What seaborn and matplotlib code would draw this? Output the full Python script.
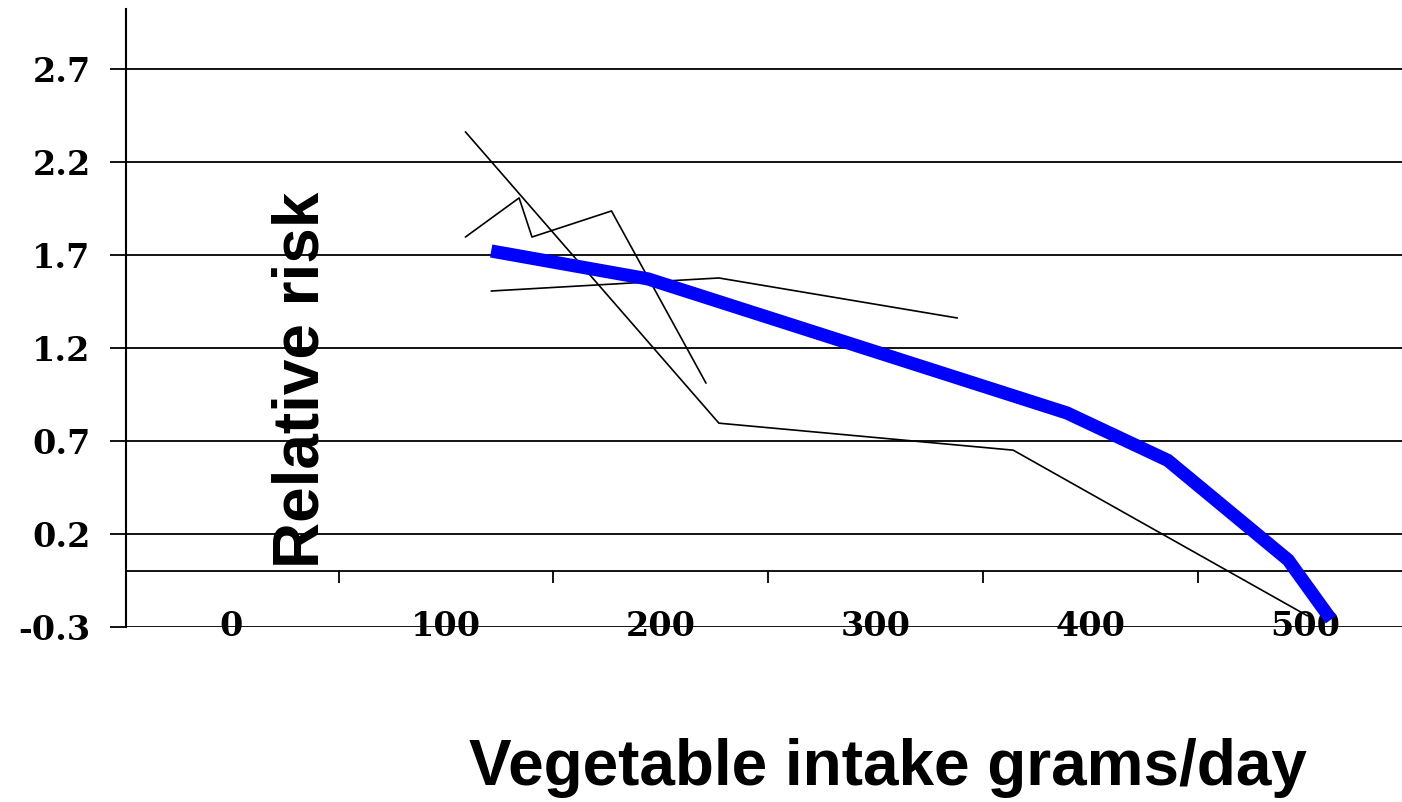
import numpy as np
import pandas as pd
import matplotlib
matplotlib.use("Agg")
import matplotlib.pyplot as plt
import seaborn as sns

# data
pooled_x = [121, 194, 389, 436, 492, 512]
pooled_y = [1.72, 1.57, 0.85, 0.595, 0.06, -0.26]

study_a_x = [109, 227, 364, 501]
study_a_y = [2.36, 0.795, 0.65, -0.24]

study_b_x = [109, 134, 140, 177, 221]
study_b_y = [1.795, 2.005, 1.795, 1.935, 1.01]

study_c_x = [121, 227, 338]
study_c_y = [1.505, 1.575, 1.36]

y_ticks = [-0.3, 0.2, 0.7, 1.2, 1.7, 2.2, 2.7]
x_ticks = [0, 100, 200, 300, 400, 500]
x_minor = [50, 150, 250, 350, 450]

sns.set_style("white")
plt.rcParams["text.color"] = "black"
plt.rcParams["axes.labelcolor"] = "black"
plt.rcParams["xtick.color"] = "black"
plt.rcParams["ytick.color"] = "black"

fig = plt.figure(figsize=(14.02, 8.02), dpi=100)
ax = fig.add_axes([126 / 1402, 1 - 627 / 802, 1276 / 1402, 618 / 802])

for xs, ys in [(study_a_x, study_a_y), (study_b_x, study_b_y), (study_c_x, study_c_y)]:
    sns.lineplot(x=xs, y=ys, ax=ax, color="black", linewidth=1.2,
                 sort=False, estimator=None, zorder=3)

sns.lineplot(x=pooled_x, y=pooled_y, ax=ax, color="#0000ff", linewidth=9.5,
             sort=False, estimator=None, zorder=4,
             solid_joinstyle="miter", solid_capstyle="butt")

ax.set_xlim(-49, 545)
ax.set_ylim(-0.3, 3.02)

# y axis: gridlines at the ticks, ticks sticking out left
ax.set_yticks(y_ticks)
ax.set_yticklabels([f"{v:.1f}" for v in y_ticks])
ax.yaxis.grid(True, color="black", linewidth=1.3)
ax.tick_params(axis="y", direction="out", length=11.5, width=1.3, color="black",
               pad=14, left=True)
ax.set_axisbelow(True)

# x labels sit right on the bottom gridline
ax.set_xticks(x_ticks)
ax.set_xticklabels([str(v) for v in x_ticks])
ax.tick_params(axis="x", length=0, pad=0)

for lab in ax.get_xticklabels() + ax.get_yticklabels():
    lab.set_fontfamily("DejaVu Serif")
    lab.set_fontweight("bold")
    lab.set_fontsize(24)
    lab.set_color("black")
for lab in ax.get_xticklabels():
    lab.set_verticalalignment("center")

for s in ["top", "right", "bottom"]:
    ax.spines[s].set_visible(False)
ax.spines["left"].set_color("black")
ax.spines["left"].set_linewidth(1.5)

# the zero line carries the category-style tick marks
zero_axis = ax.secondary_xaxis(0, transform=ax.transData)
zero_axis.set_xticks(x_minor)
zero_axis.set_xticklabels([""] * len(x_minor))
zero_axis.tick_params(direction="out", length=8.5, width=1.3, color="black")
zero_axis.spines["bottom"].set_color("black")
zero_axis.spines["bottom"].set_linewidth(1.3)

ax.set_ylabel("Relative risk", fontsize=46, fontweight="bold",
              fontfamily="Liberation Sans", color="black")
ax.yaxis.set_label_coords(0.161, 0.40)

fig.text(888 / 1402, 1 - 785 / 802, "Vegetable intake grams/day", ha="center",
         va="baseline", fontsize=46, fontweight="bold", fontfamily="Liberation Sans",
         color="black")

fig.savefig("out.png", dpi=100)
